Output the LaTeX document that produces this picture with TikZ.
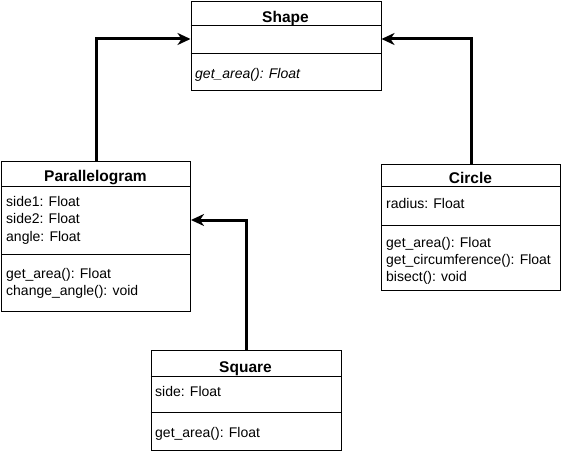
\documentclass[tikz,border=0pt]{standalone}
\usepackage{fontspec}
\setmainfont{Liberation Sans}
\usetikzlibrary{arrows.meta}
\begin{document}
\begin{tikzpicture}[x=1pt,y=-1pt,
  box/.style={draw=black,line width=1pt,inner sep=0pt,anchor=north west,fill=white},
  divider/.style={line width=1pt},
  title/.style={anchor=base,inner sep=0pt,font=\fontsize{15.5}{18}\selectfont\bfseries},
  item/.style={anchor=base west,inner sep=0pt,font=\fontsize{14}{17}\selectfont},
  conn/.style={line width=3pt,-{Stealth[length=13pt,width=12pt,inset=4pt]}}]
\useasboundingbox (0,0) rectangle (561,454);
% Shape
\node[box,minimum width=190pt,minimum height=89pt] (shape) at (190.5,1) {};
\draw[divider] (190.5,26) -- (380.5,26);
\draw[divider] (190.5,54) -- (380.5,54);
\node[title] (shapet) at (285.5,22.5) {Shape};
\node[item] (shapem) at (195,79) {\itshape get\_area(): Float};
% Parallelogram
\node[box,minimum width=189pt,minimum height=150pt] (para) at (1,161) {};
\draw[divider] (1,187) -- (190,187);
\draw[divider] (1,254) -- (190,254);
\node[title] (parat) at (95.5,182) {Parallelogram};
\node[item] (paraa1) at (6,206) {side1: Float};
\node[item] (paraa2) at (6,223.5) {side2: Float};
\node[item] (paraa3) at (6,241) {angle: Float};
\node[item] (param1) at (6,278.5) {get\_area(): Float};
\node[item] (param2) at (6,295) {change\_angle(): void};
% Circle
\node[box,minimum width=179pt,minimum height=126pt] (circ) at (381,164) {};
\draw[divider] (381,187) -- (560,187);
\draw[divider] (381,225) -- (560,225);
\node[title] (circt) at (470.5,183.3) {Circle};
\node[item] (circa1) at (386,208.5) {radius: Float};
\node[item] (circm1) at (386,247.5) {get\_area(): Float};
\node[item] (circm2) at (386,264.5) {get\_circumference(): Float};
\node[item] (circm3) at (386,281.5) {bisect(): void};
% Square
\node[box,minimum width=190pt,minimum height=100pt] (sq) at (150.5,350) {};
\draw[divider] (150.5,376) -- (340.5,376);
\draw[divider] (150.5,412) -- (340.5,412);
\node[title] (sqt) at (245.5,372.5) {Square};
\node[item] (sqa1) at (155,396) {side: Float};
\node[item] (sqm1) at (155,437) {get\_area(): Float};
% connectors
\draw[conn] (para.north) |- ([yshift=-38pt]shape.north west);
\draw[conn] (circ.north) |- ([yshift=-38pt]shape.north east);
\draw[conn] (sq.north) |- ([yshift=-59pt]para.north east);
\end{tikzpicture}
\end{document}
